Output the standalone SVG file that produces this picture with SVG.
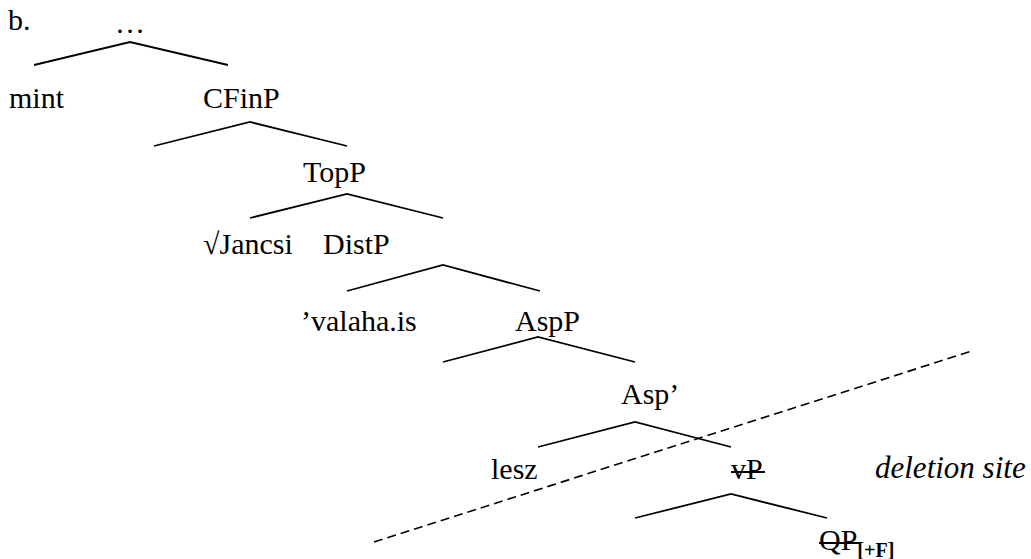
<svg xmlns="http://www.w3.org/2000/svg" width="1031" height="559" viewBox="0 0 1031 559">
  <style>
    text { font-family: "Liberation Serif", "Times New Roman", serif; font-size: 30px; fill: #000; }
    .it { font-style: italic; font-size: 31px; }
    .sub { font-size: 20px; font-weight: bold; }
    .branch { fill: none; stroke: #000; stroke-width: 1.8; stroke-linejoin: miter; }
    .strike { stroke: #000; stroke-width: 1.8; }
    .cut { fill: none; stroke: #000; stroke-width: 1.6; stroke-dasharray: 9 5; }
  </style>
  <rect width="1031" height="559" fill="#fff"/>

  <!-- tree branches: one inverted V per phrase -->
  <g id="connectors">
    <polyline class="branch" points="34,65 130,42 228,65"/>
    <polyline class="branch" points="154,146 250,122 347,146"/>
    <polyline class="branch" points="250,218 347,194 443,218"/>
    <polyline class="branch" points="347,291 443,265 540,291"/>
    <polyline class="branch" points="443,362 538,337 635,362"/>
    <polyline class="branch" points="538,447 635,422 731,447"/>
    <polyline class="branch" points="635,518 731,494 827,518"/>
    <!-- boundary of the elided material -->
    <line class="cut" x1="374" y1="542" x2="972" y2="351"/>
  </g>

  <g id="label-b"><text x="8" y="30">b.</text></g>
  <g id="node-top"><text x="130" y="33" text-anchor="middle">…</text></g>
  <g id="node-mint"><text x="9" y="108">mint</text></g>
  <g id="node-cfinp"><text x="203" y="108">CFinP</text></g>
  <g id="node-topp"><text x="303" y="182">TopP</text></g>
  <g id="node-jancsi"><text x="203" y="254">√Jancsi</text></g>
  <g id="node-distp"><text x="323" y="254">DistP</text></g>
  <g id="node-valahais"><text x="301" y="331">’valaha.is</text></g>
  <g id="node-aspp"><text x="515" y="331">AspP</text></g>
  <g id="node-aspbar"><text x="621" y="404">Asp’</text></g>
  <g id="node-lesz"><text x="491" y="479">lesz</text></g>
  <g id="node-vp">
    <text x="731" y="479">vP</text>
    <line class="strike" x1="731" y1="472" x2="765" y2="472"/>
  </g>
  <g id="note-deletion"><text class="it" x="875" y="478">deletion site</text></g>
  <g id="node-qp">
    <text x="819" y="550">QP<tspan class="sub" dy="7">[+F]</tspan></text>
    <line class="strike" x1="819" y1="543" x2="859" y2="543"/>
  </g>
</svg>
